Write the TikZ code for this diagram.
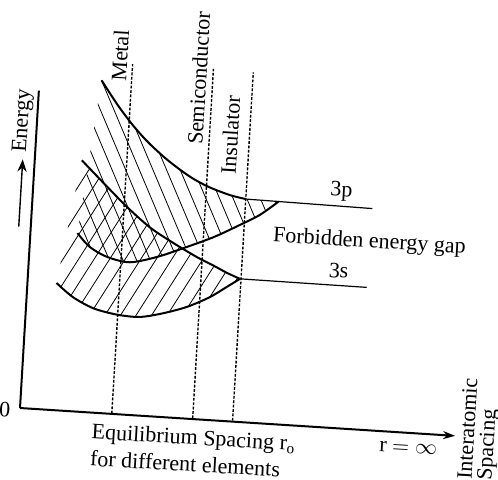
\documentclass[tikz,border=0pt]{standalone}
\usepackage{fontspec}
\setmainfont{Liberation Serif}
\usetikzlibrary{arrows.meta}

\begin{document}
\begin{tikzpicture}[
    x=0.5pt, y=0.5pt,
    >=Stealth,
    axis/.style={line width=1pt},
    bandedge/.style={line width=1pt},
    hatch/.style={line width=0.4pt},
    levelline/.style={line width=0.6pt},
    eqline/.style={line width=0.7pt, dash pattern=on 1.4pt off 0.8pt},
    biglabel/.style={font=\fontsize{11}{13}\selectfont},
    smalllabel/.style={font=\fontsize{11}{13.5}\selectfont},
]
\useasboundingbox (0,0) rectangle (498,-479);

\begin{scope}[shift={(20,-408)}, rotate=-3.4, transform shape]

\coordinate (O) at (0,0);
\coordinate (xend) at (436,-2);
\coordinate (ytop) at (0,318);

% === Hatching of the 3p band ===
\begin{scope}
    \clip plot[smooth] coordinates {(62,332) (79,309) (95,290) (112,273) (133,256) (156,241) (175,232) (197,225) (213,222)}
        -- (246,221.5)
        -- plot[smooth] coordinates {(246,221.5) (228,207) (209,196) (183,182) (153,169) (128,159) (101,152) (78,156) (60,165) (47,178)}
        -- cycle;
    \foreach \x in {100,114,...,430}
        \draw[hatch] (\x,0) -- ++(116.3:420);
\end{scope}

% === Hatching of the 3s band ===
\begin{scope}
    \clip plot[smooth] coordinates {(47,251) (74,226) (95,207) (119,188) (143,174) (168,161) (184,154) (199,147) (212,142)}
        -- plot[smooth] coordinates {(212,142) (199,133) (183,122) (161,111) (137,103) (114,98) (91,99) (67,104) (46,114) (29,127)}
        -- cycle;
    \foreach \x in {-125,-110,...,170}
        \draw[hatch] (\x,0) -- ++(60.9:320);
\end{scope}

% === Band edges ===
\draw[bandedge] plot[smooth] coordinates {(62,332) (79,309) (95,290) (112,273) (133,256) (156,241) (175,232) (197,225) (213,222)};
\draw[bandedge] plot[smooth] coordinates {(47,178) (60,165) (78,156) (101,152) (128,159) (153,169) (183,182) (209,196) (228,207) (246,221.5)};
\draw[bandedge] plot[smooth] coordinates {(47,251) (74,226) (95,207) (119,188) (143,174) (168,161) (184,154) (199,147) (212,142)};
\draw[bandedge] plot[smooth] coordinates {(29,127) (46,114) (67,104) (91,99) (114,98) (137,103) (161,111) (183,122) (199,133) (212,142)};

% === Atomic levels ===
\coordinate (p0) at (213,222);
\coordinate (p1) at (340,220);
\coordinate (s0) at (212,142);
\coordinate (s1) at (339,141);
\draw[levelline] (p0) -- (p1);
\draw[levelline] (s0) -- (s1);
\node[biglabel] (lab3p) at (308,235) {3p};
\node[biglabel] (lab3s) at (310,156) {3s};
\node[biglabel] (gap) at (339,186) {Forbidden energy gap};

% === Equilibrium spacings ===
\coordinate (m0) at (92,0);
\coordinate (m1) at (92,350);
\coordinate (sc0) at (173,0);
\coordinate (sc1) at (173,350);
\coordinate (in0) at (213,0);
\coordinate (in1) at (213,349);
\draw[eqline] (m0) -- (m1);
\draw[eqline] (sc0) -- (sc1);
\draw[eqline] (in0) -- (in1);
\node[biglabel, rotate=90] (metal) at (79,358) {Metal};
\node[biglabel, rotate=90] (semi) at (159,340) {Semiconductor};
\node[biglabel, rotate=90] (insul) at (194,285) {Insulator};

% === Axes ===
\draw[axis, -{Stealth[length=6pt, width=4pt]}] (O) -- (xend);
\draw[axis] (O) -- (ytop);
\node[smalllabel] (zero) at (-15,-3) {0};
\node[biglabel, rotate=90] (energy) at (-14,287) {Energy};
\coordinate (estart) at (-12,181);
\draw[->, line width=0.7pt] (estart) -- (estart |- energy.west);
\node[smalllabel, align=left, anchor=north west] (eqlab) at (66,-4)
    {Equilibrium Spacing r\textsubscript{o}\\for different elements};
\node[smalllabel] (rinf) at (390,-17) {r $=\infty$};
\node[font=\fontsize{11}{10}\selectfont, rotate=90, align=left, anchor=north west, inner sep=0pt] (spacing) at (440,-45)
    {Interatomic\\Spacing};

\end{scope}
\end{tikzpicture}
\end{document}
